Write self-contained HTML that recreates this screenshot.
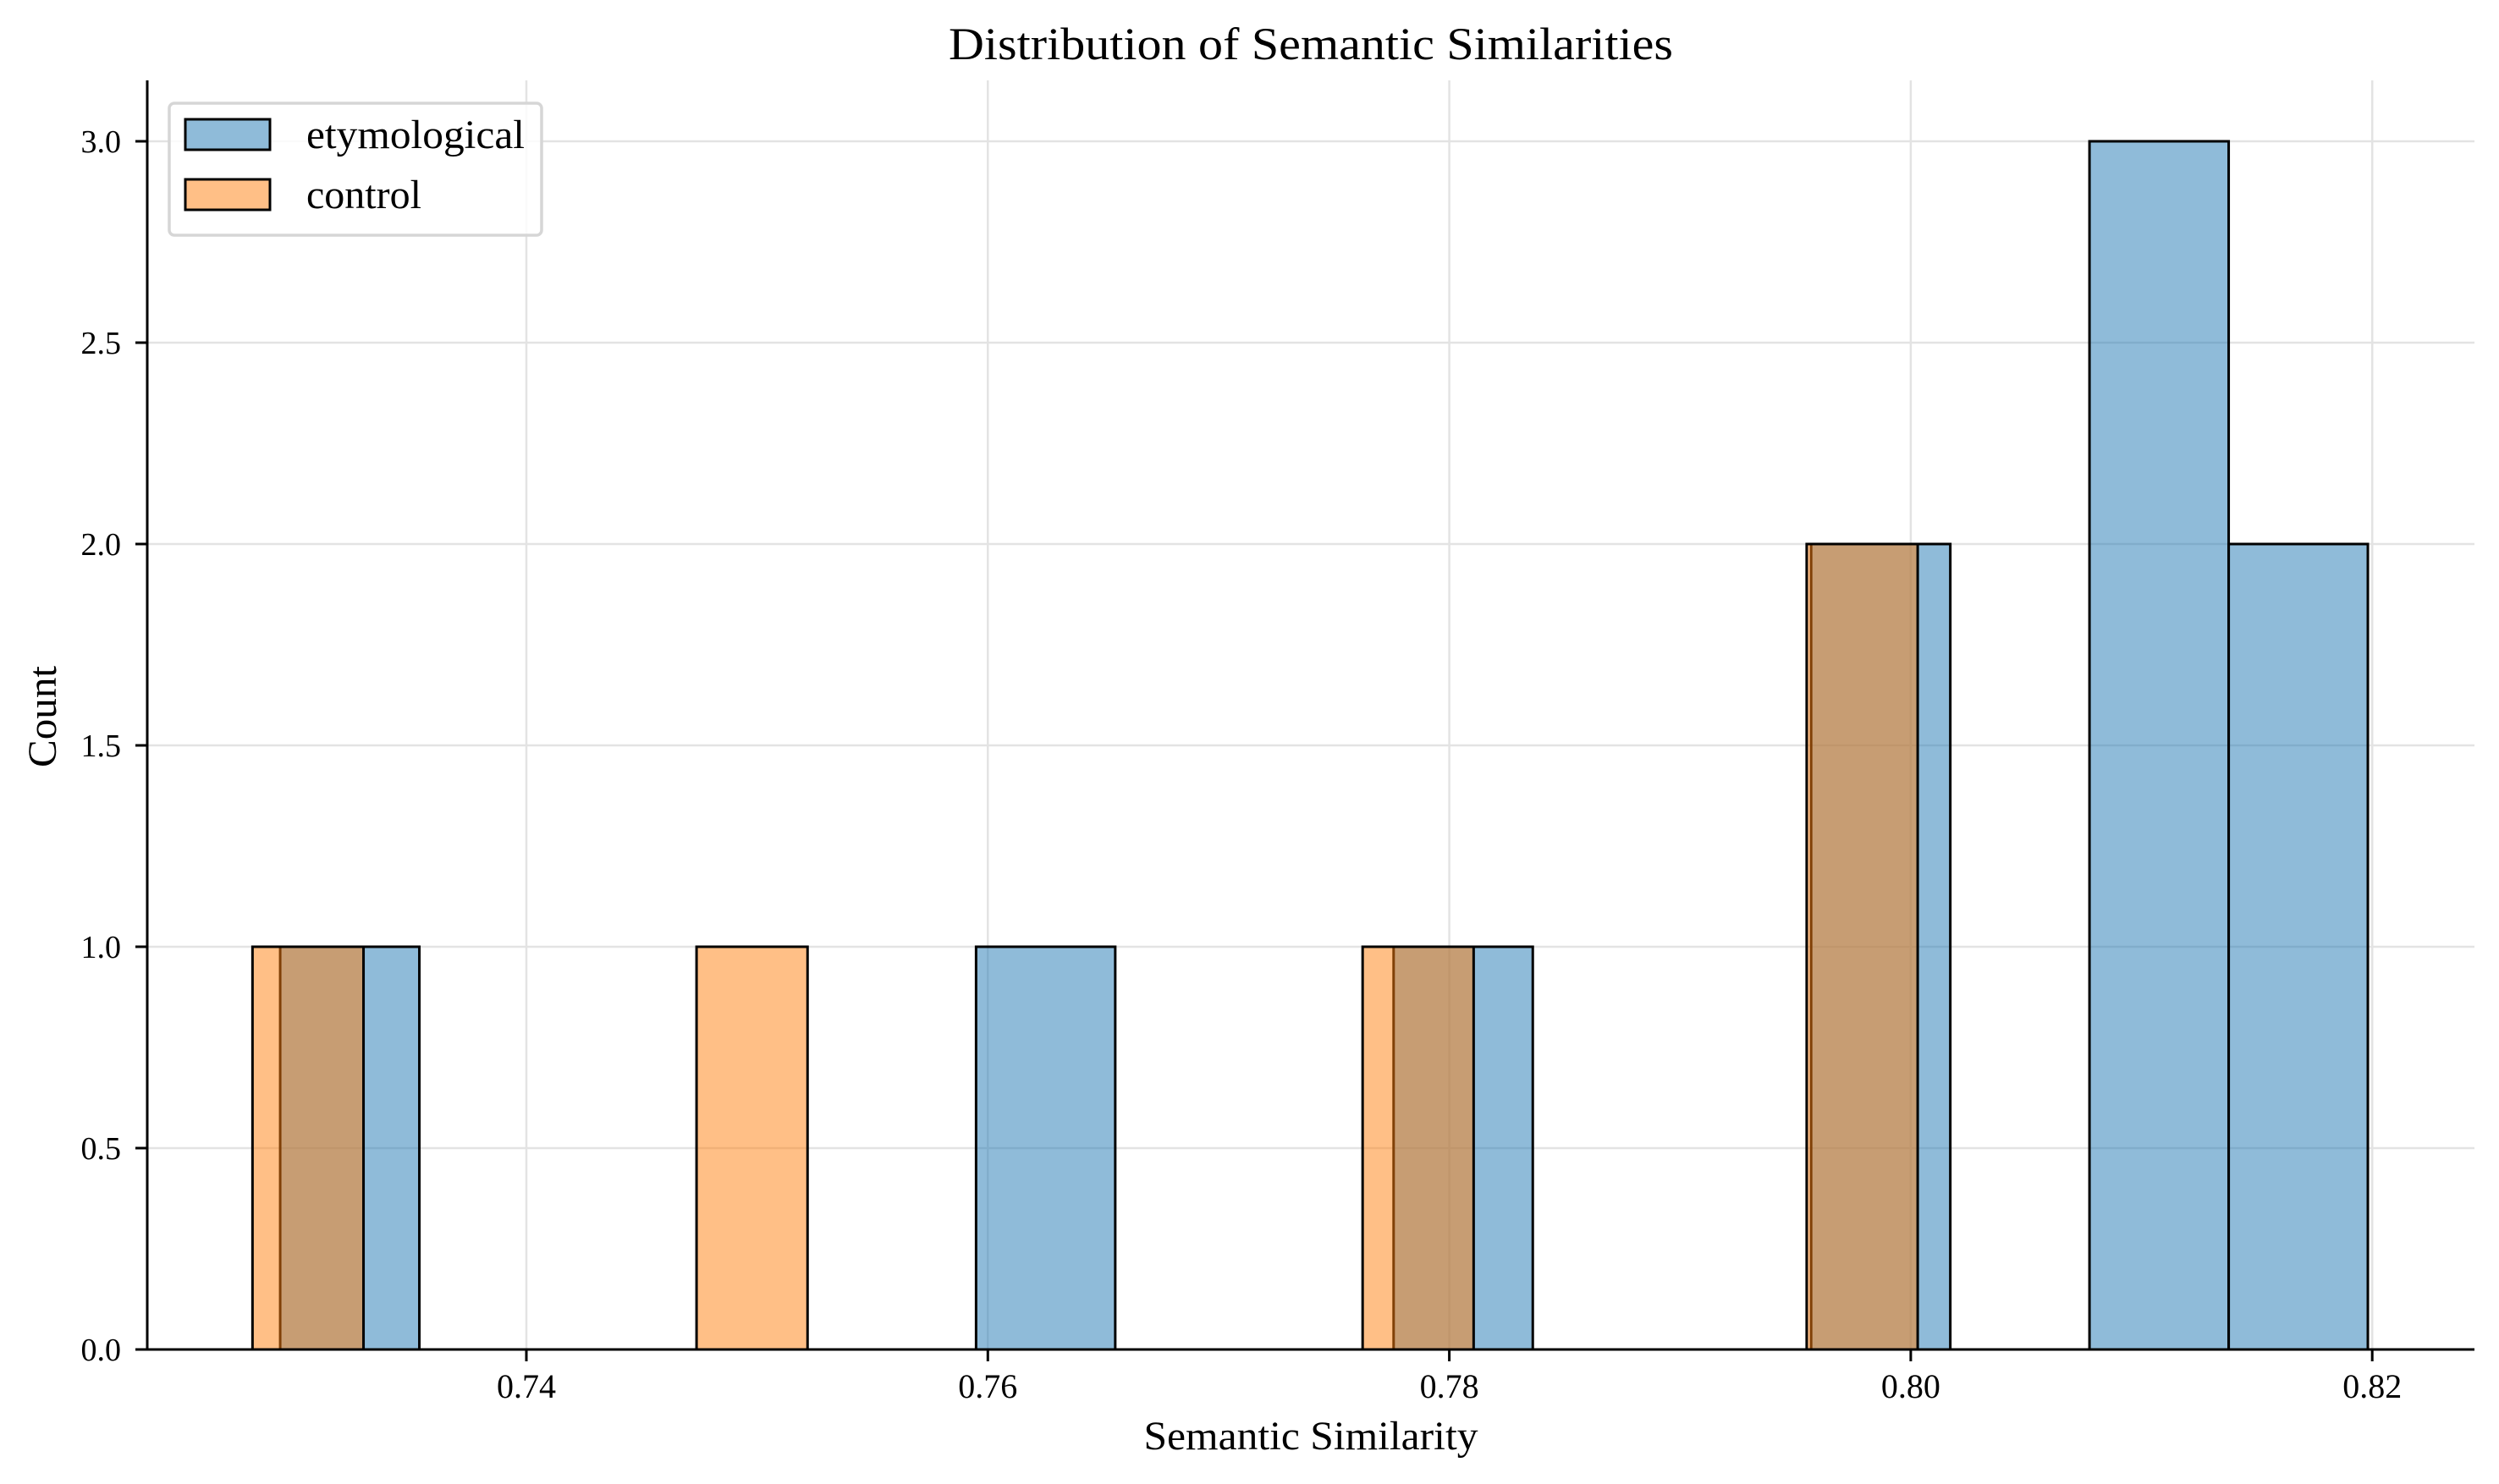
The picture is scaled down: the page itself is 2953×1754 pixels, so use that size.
<!DOCTYPE html>
<html><head><meta charset="utf-8"><style>
html,body{margin:0;padding:0;background:#fff;}
svg{display:block;font-family:"Liberation Serif",serif;}
</style></head><body>
<svg id="chart" width="2953" height="1754" viewBox="0 0 2953 1754" xmlns="http://www.w3.org/2000/svg">
<rect width="2953" height="1754" fill="#fff"/>
<g id="grid"></g>
<g id="bars"></g>
<g id="axes"></g>
<text x="1549" y="70" font-size="54" text-anchor="middle" textLength="856" lengthAdjust="spacingAndGlyphs">Distribution of Semantic Similarities</text>
<text x="1549" y="1713" font-size="48" text-anchor="middle" textLength="395" lengthAdjust="spacingAndGlyphs">Semantic Similarity</text>
<text x="0" y="0" font-size="48" text-anchor="middle" transform="translate(66,847) rotate(-90)" textLength="120" lengthAdjust="spacingAndGlyphs">Count</text>
<g>
<rect x="200" y="122" width="440" height="156" rx="6" fill="#fff" fill-opacity="0.8" stroke="#d6d6d6" stroke-width="3.5"/>
<rect x="219" y="141" width="100" height="36" fill="#8fbbd9" stroke="#000" stroke-width="3"/>
<text x="362" y="175" font-size="48" textLength="258" lengthAdjust="spacingAndGlyphs">etymological</text>
<rect x="219" y="212" width="100" height="36" fill="#ffbf86" stroke="#000" stroke-width="3"/>
<text x="362" y="246" font-size="48">control</text>
</g>
</svg>
<script>
const etymCounts = [1,0,0,0,0,1,0,0,1,0,0,2,0,3,2];
const etymRange = [0.72933, 0.81981];
const controlCounts = [1,0,0,0,1,0,0,0,0,0,1,0,0,0,2];
const controlRange = [0.72813, 0.80030];
const xTicks = [0.74, 0.76, 0.78, 0.80, 0.82];
const xTickLabels = ["0.74","0.76","0.78","0.80","0.82"];
const yTicks = [0, 0.5, 1.0, 1.5, 2.0, 2.5, 3.0];
const yTickLabels = ["0.0","0.5","1.0","1.5","2.0","2.5","3.0"];

const NS = "http://www.w3.org/2000/svg";
const X0 = 174, X1 = 2924, YB = 1595, YT = 95;
function xs(v){ return 622 + (v - 0.74) * 27265; }
function ys(v){ return YB - v * 476; }
function mk(tag, attrs, parent){
  const e = document.createElementNS(NS, tag);
  for (const k in attrs) e.setAttribute(k, attrs[k]);
  parent.appendChild(e); return e;
}
const grid = document.getElementById('grid');
const bars = document.getElementById('bars');
const axes = document.getElementById('axes');

xTicks.forEach((t, i) => {
  const g = mk('line', {x1: xs(t), x2: xs(t), y1: YT, y2: YB, stroke: '#e3e3e3', 'stroke-width': 2.5}, grid);
  
  
  const tk = mk('line', {x1: xs(t), x2: xs(t), y1: YB, y2: YB + 14, stroke: '#000', 'stroke-width': 3}, axes);
  
  
  const lb = mk('text', {x: xs(t), y: 1652, 'font-size': 40, 'text-anchor': 'middle'}, axes);
  lb.textContent = xTickLabels[i];
  
  
});
yTicks.forEach((t, i) => {
  const g = mk('line', {x1: X0, x2: X1, y1: ys(t), y2: ys(t), stroke: '#e3e3e3', 'stroke-width': 2.5}, grid);
  
  
  const tk = mk('line', {x1: X0 - 14, x2: X0, y1: ys(t), y2: ys(t), stroke: '#000', 'stroke-width': 3}, axes);
  
  
  const lb = mk('text', {x: 143, y: ys(t) + 13, 'font-size': 38, 'text-anchor': 'end'}, axes);
  lb.textContent = yTickLabels[i];
  
  
});

function drawHist(counts, range, fill, name){
  const w = (range[1] - range[0]) / counts.length;
  counts.forEach((c, i) => {
    if (c <= 0) return;
    const a = xs(range[0] + i * w), b = xs(range[0] + (i + 1) * w);
    const r = mk('rect', {x: a, y: ys(c), width: b - a, height: ys(0) - ys(c), fill: fill, 'fill-opacity': 0.5, stroke: '#000', 'stroke-width': 3}, bars);
    
    
  });
}
drawHist(etymCounts, etymRange, '#1f77b4', 'etymological');
drawHist(controlCounts, controlRange, '#ff7f0e', 'control');

const ya = mk('line', {x1: X0, x2: X0, y1: YT, y2: YB + 1.5, stroke: '#000', 'stroke-width': 3}, axes);


const xa = mk('line', {x1: X0 - 1.5, x2: X1, y1: YB, y2: YB, stroke: '#000', 'stroke-width': 3}, axes);


</script>
</body></html>
